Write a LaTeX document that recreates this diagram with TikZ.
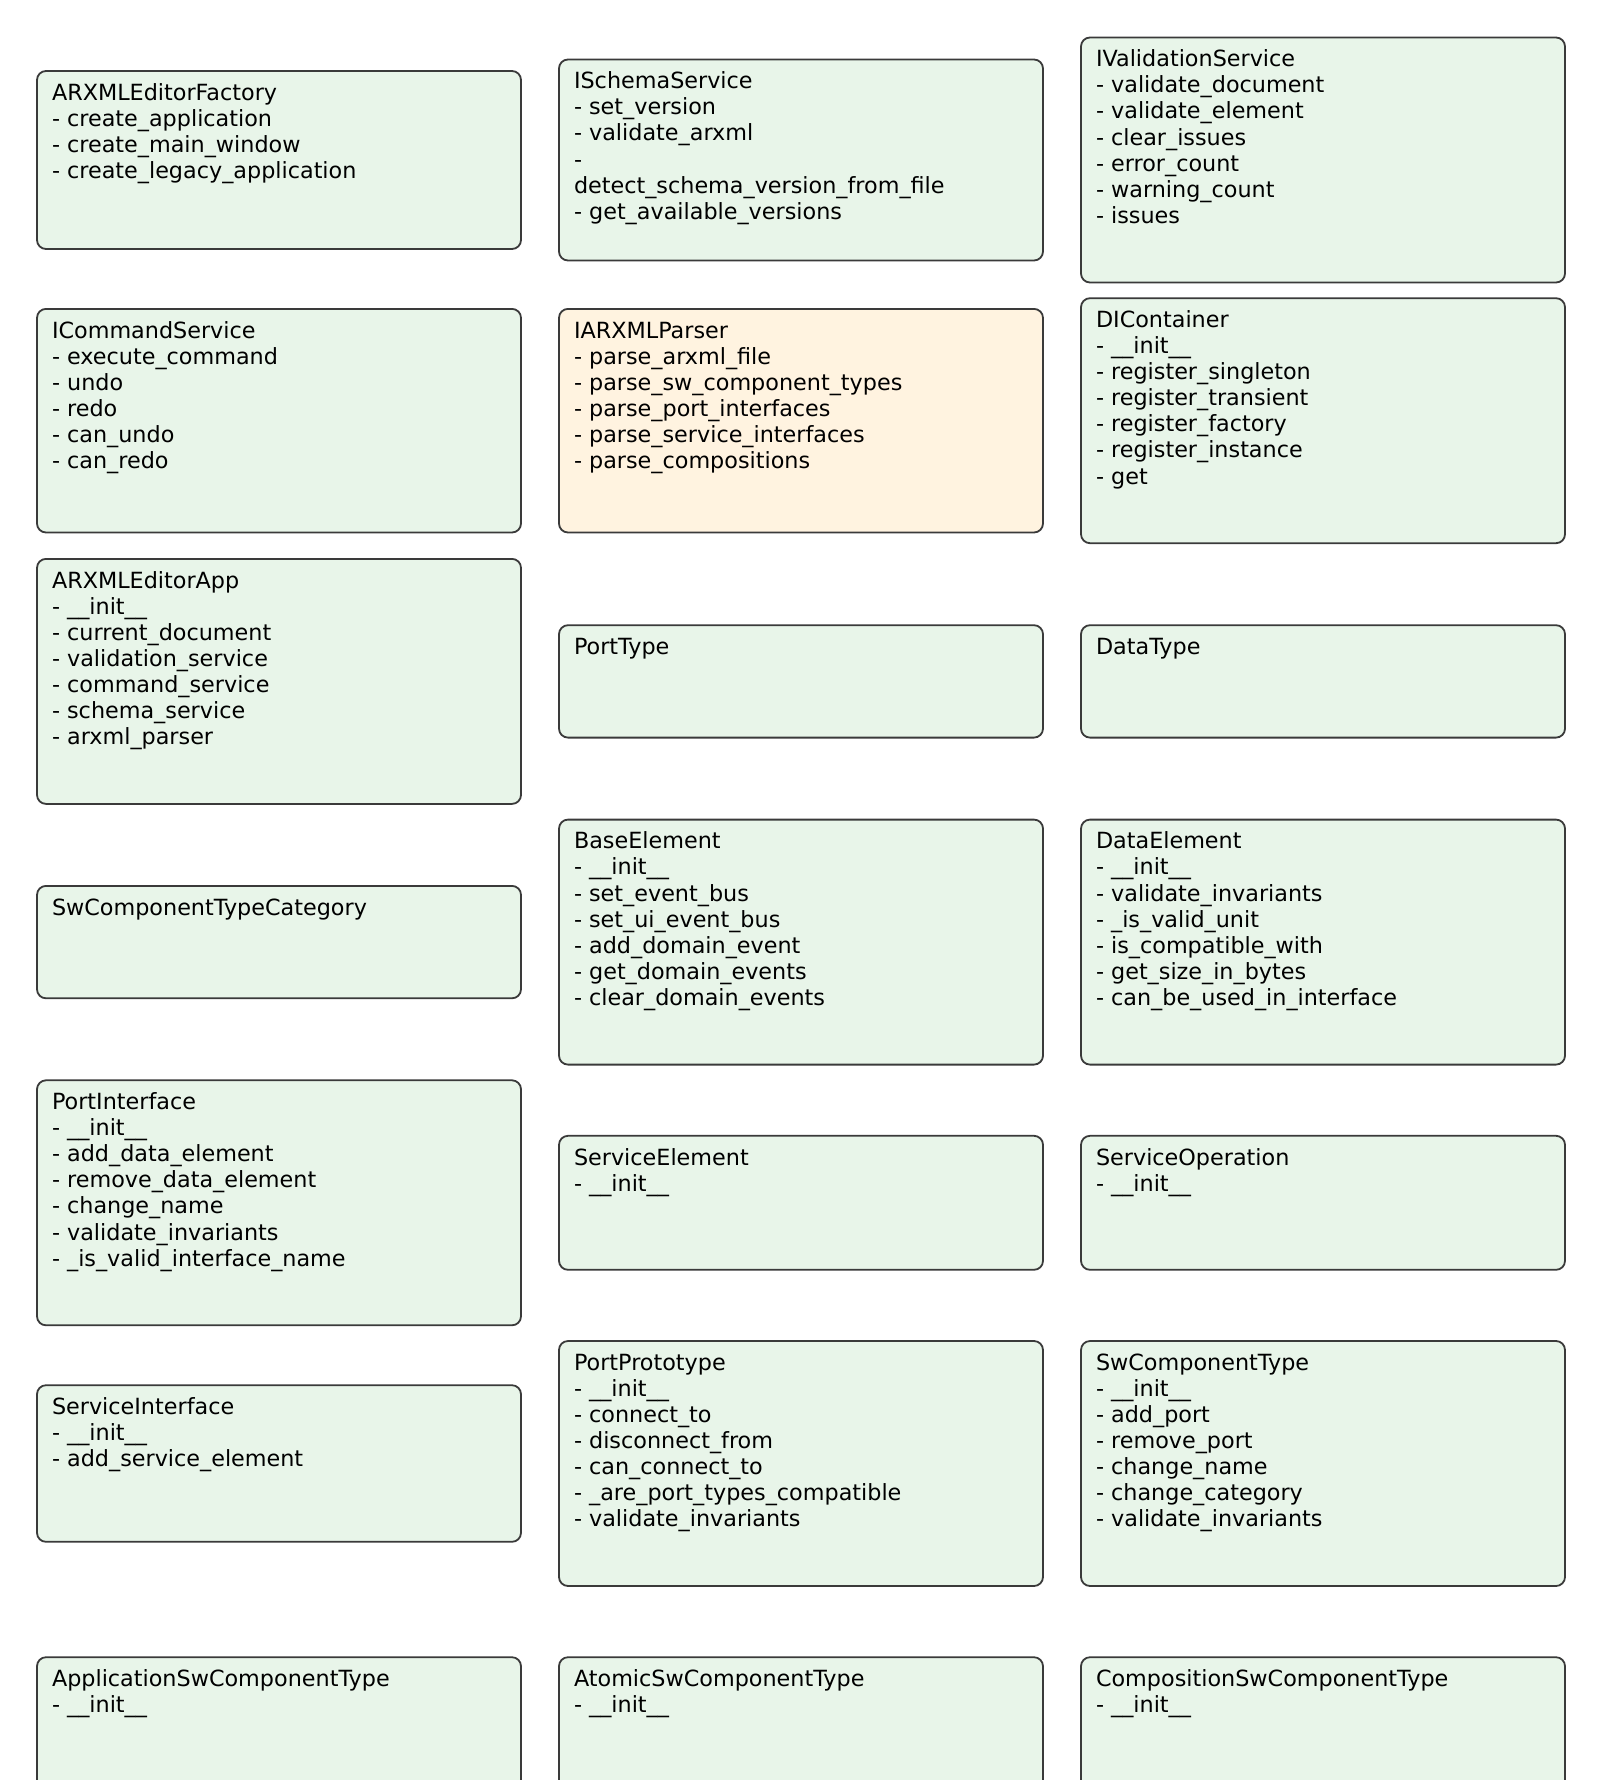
\documentclass[tikz,border=0pt]{standalone}
\usepackage{fontspec}
\setmainfont{DejaVu Sans}
\definecolor{boxgreen}{HTML}{E8F5E9}
\definecolor{boxorange}{HTML}{FFF3E0}
\definecolor{boxline}{HTML}{3A3A3A}
\tikzset{
  umlnode/.style={draw=boxline, line width=1.8pt, rounded corners=9pt, minimum width=484pt, inner sep=0pt, outer sep=0pt},
  umltext/.style={anchor=north west, inner sep=0pt, outer sep=0pt, align=left, font=\fontsize{22.3pt}{26.1pt}\selectfont, text=black}
}
\newcommand\umlbox[6]{%
  \node[umlnode, fill=#5, minimum height=#4pt] (#1) at (#2,#3) {};
  \node[umltext] (#1t) at ([shift={(15pt,-11pt)}]#1.north west) {\strut#6};
}
\begin{document}
\begin{tikzpicture}[x=1pt,y=-1pt]
\fill[white] (0,0) rectangle (1600,1780);
\useasboundingbox (0,0) rectangle (1600,1780);
\clip (0,0) rectangle (1600,1780);
% row 0
\umlbox{factory}{279}{160}{178}{boxgreen}{ARXMLEditorFactory\\- create\_application\\- create\_main\_window\\- create\_legacy\_application}
\umlbox{schema}{801}{160}{201}{boxgreen}{ISchemaService\\- set\_version\\- validate\_arxml\\-\\detect\_schema\_version\_from\_file\\- get\_available\_versions}
\umlbox{validation}{1323}{160}{245}{boxgreen}{IValidationService\\- validate\_document\\- validate\_element\\- clear\_issues\\- error\_count\\- warning\_count\\- issues}
% row 1
\umlbox{command}{279}{420.7}{223.6}{boxgreen}{ICommandService\\- execute\_command\\- undo\\- redo\\- can\_undo\\- can\_redo}
\umlbox{parser}{801}{420.7}{223.6}{boxorange}{IARXMLParser\\- parse\_arxml\_file\\- parse\_sw\_component\_types\\- parse\_port\_interfaces\\- parse\_service\_interfaces\\- parse\_compositions}
\umlbox{dicontainer}{1323}{420.7}{245}{boxgreen}{DIContainer\\- \_\_init\_\_\\- register\_singleton\\- register\_transient\\- register\_factory\\- register\_instance\\- get}
% row 2
\umlbox{app}{279}{681.4}{245}{boxgreen}{ARXMLEditorApp\\- \_\_init\_\_\\- current\_document\\- validation\_service\\- command\_service\\- schema\_service\\- arxml\_parser}
\umlbox{porttype}{801}{681.4}{112.4}{boxgreen}{PortType}
\umlbox{datatype}{1323}{681.4}{112.4}{boxgreen}{DataType}
% row 3
\umlbox{swcat}{279}{942.1}{112.4}{boxgreen}{SwComponentTypeCategory}
\umlbox{baseelement}{801}{942.1}{245}{boxgreen}{BaseElement\\- \_\_init\_\_\\- set\_event\_bus\\- set\_ui\_event\_bus\\- add\_domain\_event\\- get\_domain\_events\\- clear\_domain\_events}
\umlbox{dataelement}{1323}{942.1}{245}{boxgreen}{DataElement\\- \_\_init\_\_\\- validate\_invariants\\- \_is\_valid\_unit\\- is\_compatible\_with\\- get\_size\_in\_bytes\\- can\_be\_used\_in\_interface}
% row 4
\umlbox{portinterface}{279}{1202.8}{245}{boxgreen}{PortInterface\\- \_\_init\_\_\\- add\_data\_element\\- remove\_data\_element\\- change\_name\\- validate\_invariants\\- \_is\_valid\_interface\_name}
\umlbox{serviceelement}{801}{1202.8}{134}{boxgreen}{ServiceElement\\- \_\_init\_\_}
\umlbox{serviceoperation}{1323}{1202.8}{134}{boxgreen}{ServiceOperation\\- \_\_init\_\_}
% row 5
\umlbox{serviceinterface}{279}{1463.5}{156.6}{boxgreen}{ServiceInterface\\- \_\_init\_\_\\- add\_service\_element}
\umlbox{portprototype}{801}{1463.5}{245}{boxgreen}{PortPrototype\\- \_\_init\_\_\\- connect\_to\\- disconnect\_from\\- can\_connect\_to\\- \_are\_port\_types\_compatible\\- validate\_invariants}
\umlbox{swcomponenttype}{1323}{1463.5}{245}{boxgreen}{SwComponentType\\- \_\_init\_\_\\- add\_port\\- remove\_port\\- change\_name\\- change\_category\\- validate\_invariants}
% row 6
\umlbox{appswc}{279}{1724.2}{134}{boxgreen}{ApplicationSwComponentType\\- \_\_init\_\_}
\umlbox{atomicswc}{801}{1724.2}{134}{boxgreen}{AtomicSwComponentType\\- \_\_init\_\_}
\umlbox{compswc}{1323}{1724.2}{134}{boxgreen}{CompositionSwComponentType\\- \_\_init\_\_}
\end{tikzpicture}
\end{document}
